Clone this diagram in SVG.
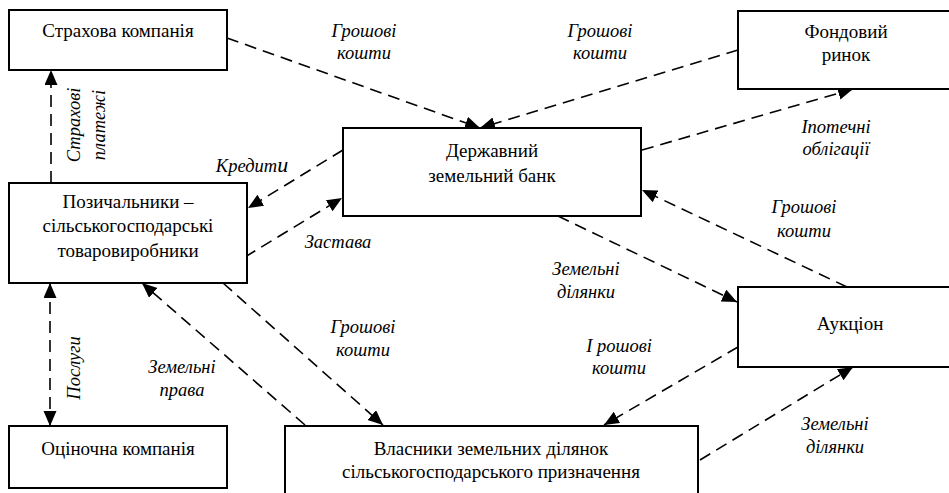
<svg xmlns="http://www.w3.org/2000/svg" width="949" height="493" viewBox="0 0 949 493">
<style>
.box{fill:#fff;stroke:#000;stroke-width:2}
.t{font-family:'Liberation Serif','Times New Roman',serif;font-size:19px;text-anchor:middle;fill:#000}
.l{font-family:'Liberation Serif','Times New Roman',serif;font-size:18.5px;font-style:italic;text-anchor:middle;fill:#000}
.c{fill:none;stroke:#000;stroke-width:1.6;stroke-dasharray:12 7}
</style>
<defs>
<marker id="ah" markerUnits="userSpaceOnUse" markerWidth="16" markerHeight="14" refX="15" refY="6.5" orient="auto-start-reverse" viewBox="0 0 16 14">
<path d="M0,0 L15,6.5 L0,13 z" fill="#000"/>
</marker>
</defs>
<rect width="949" height="493" fill="#fff"/>
<g id="connectors">
<line class="c" x1="227" y1="38" x2="480" y2="128" marker-end="url(#ah)"/>
<line class="c" x1="738" y1="50" x2="480" y2="128" marker-end="url(#ah)"/>
<line class="c" x1="642" y1="150" x2="853" y2="89" marker-end="url(#ah)"/>
<line class="c" x1="847" y1="287" x2="642" y2="190" marker-end="url(#ah)"/>
<line class="c" x1="558" y1="216" x2="737" y2="302" marker-end="url(#ah)"/>
<line class="c" x1="738" y1="347" x2="604" y2="425" marker-end="url(#ah)"/>
<line class="c" x1="700" y1="460" x2="853" y2="367" marker-end="url(#ah)"/>
<line class="c" x1="343" y1="150" x2="248" y2="208" marker-end="url(#ah)"/>
<line class="c" x1="245" y1="257" x2="342" y2="198" marker-end="url(#ah)"/>
<line class="c" x1="223" y1="283" x2="383" y2="425" marker-end="url(#ah)"/>
<line class="c" x1="305" y1="425" x2="142" y2="283" marker-end="url(#ah)"/>
<line class="c" x1="51" y1="183" x2="51" y2="70" marker-end="url(#ah)"/>
<line class="c" x1="50" y1="283" x2="50" y2="426" marker-start="url(#ah)" marker-end="url(#ah)"/>
</g>
<g id="n-strakhova">
<rect class="box" x="9" y="10" width="218" height="60"/>
<text class="t" x="118" y="37">Страхова компанія</text>
</g>
<g id="n-fondovyi">
<rect class="box" x="738" y="11" width="220" height="78"/>
<text class="t" x="846" y="38">Фондовий</text>
<text class="t" x="846" y="61">ринок</text>
</g>
<g id="n-bank">
<rect class="box" x="343" y="128" width="298" height="88"/>
<text class="t" x="492" y="157">Державний</text>
<text class="t" x="492" y="182">земельний банк</text>
</g>
<g id="n-pozych">
<rect class="box" x="9" y="183" width="238" height="100"/>
<text class="t" x="128" y="208">Позичальники –</text>
<text class="t" x="128" y="232">сільськогосподарські</text>
<text class="t" x="128" y="257">товаровиробники</text>
</g>
<g id="n-auktsion">
<rect class="box" x="738" y="287" width="220" height="80"/>
<text class="t" x="850" y="330">Аукціон</text>
</g>
<g id="n-otsinochna">
<rect class="box" x="9" y="426" width="218" height="62"/>
<text class="t" x="118" y="455">Оціночна компанія</text>
</g>
<g id="n-vlasnyky">
<rect class="box" x="285" y="426" width="413" height="80"/>
<text class="t" x="491" y="455">Власники земельних ділянок</text>
<text class="t" x="491" y="478">сільськогосподарського призначення</text>
</g>
<g id="labels">
<text class="l" x="364" y="37">Грошові</text>
<text class="l" x="364" y="59">кошти</text>
<text class="l" x="600" y="37">Грошові</text>
<text class="l" x="600" y="59">кошти</text>
<text class="l" x="836" y="133">Іпотечні</text>
<text class="l" x="836" y="155">облігації</text>
<text class="l" x="804" y="213">Грошові</text>
<text class="l" x="804" y="237">кошти</text>
<text class="l" x="252" y="172">Кредит<tspan font-size="22">u</tspan></text>
<text class="l" x="338" y="248">Застава</text>
<text class="l" transform="translate(80,125) rotate(-90)"><tspan x="0" y="0">Страхові</tspan><tspan x="0" y="25">платежі</tspan></text>
<text class="l" transform="translate(80,368) rotate(-90)" x="0" y="0">Послуги</text>
<text class="l" x="182" y="373">Земельні</text>
<text class="l" x="182" y="396">права</text>
<text class="l" x="363" y="333">Грошові</text>
<text class="l" x="363" y="356">кошти</text>
<text class="l" x="586" y="275">Земельні</text>
<text class="l" x="586" y="298">ділянки</text>
<text class="l" x="619" y="352">I рошові</text>
<text class="l" x="619" y="374">кошти</text>
<text class="l" x="835" y="430">Земельні</text>
<text class="l" x="835" y="453">ділянки</text>
</g>
</svg>
